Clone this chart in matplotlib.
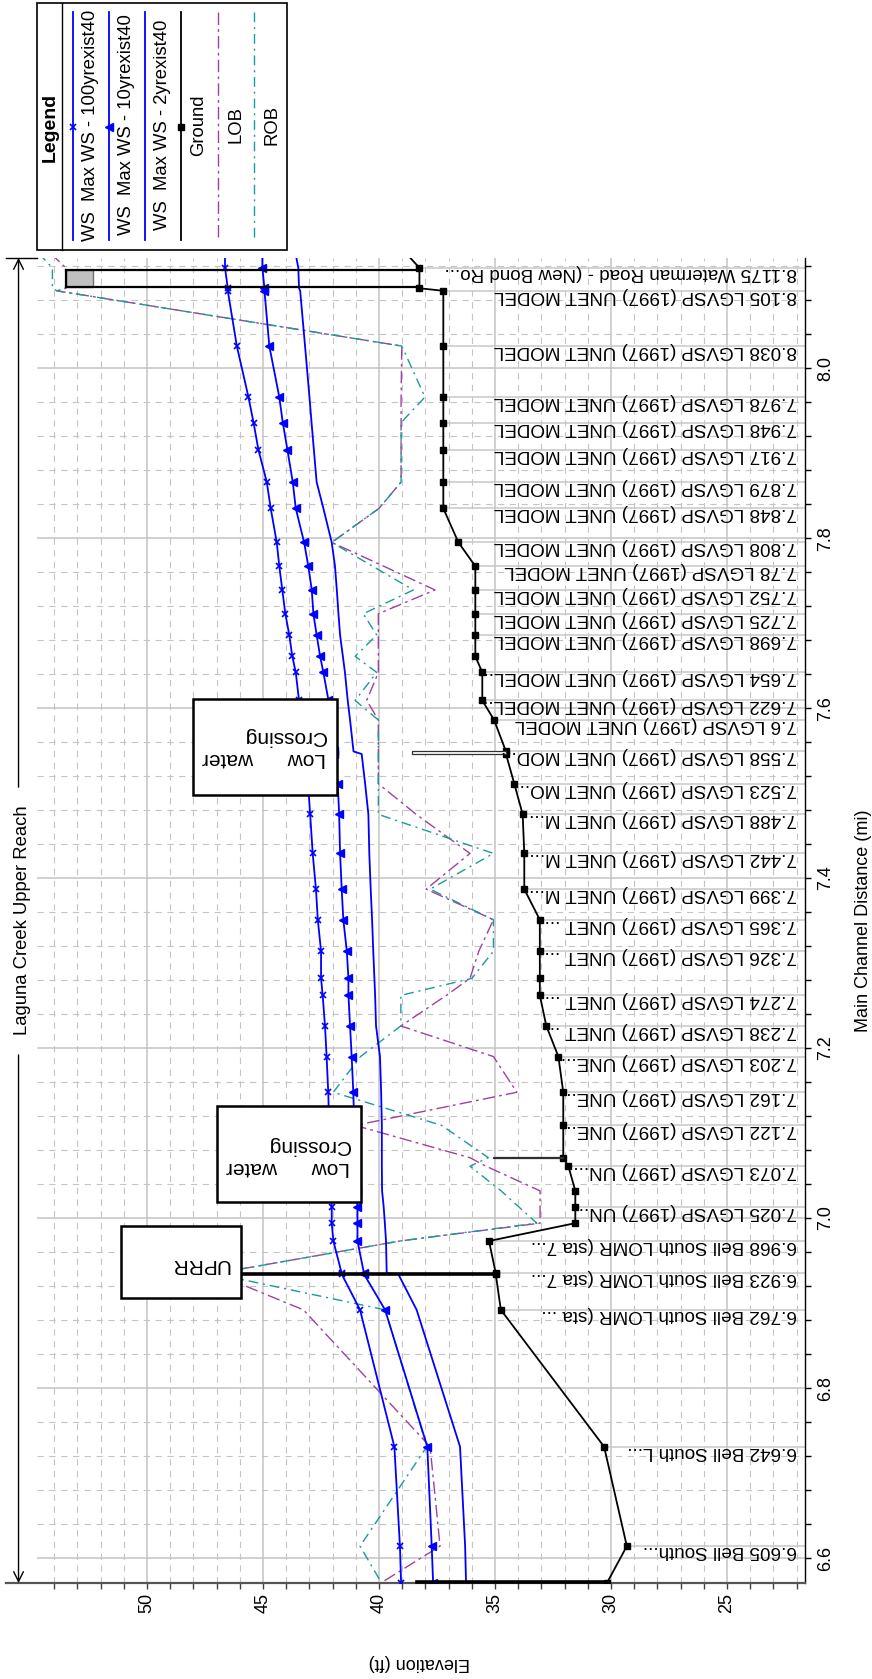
import numpy as np
import matplotlib
matplotlib.use("Agg")
import matplotlib.pyplot as plt
from matplotlib.patches import Rectangle
from matplotlib.lines import Line2D
from matplotlib.ticker import FixedLocator, FuncFormatter

plt.rcParams['font.family'] = ['Liberation Sans', 'DejaVu Sans']
plt.rcParams['lines.scale_dashes'] = False

# cross sections, upstream -> downstream
labels = [
    "",
    "8.1175 Waterman Road - (New Bond Ro...",
    "",
    "8.105 LGVSP (1997) UNET MODEL",
    "8.038 LGVSP (1997) UNET MODEL",
    "7.978 LGVSP (1997) UNET MODEL",
    "7.948 LGVSP (1997) UNET MODEL",
    "7.917 LGVSP (1997) UNET MODEL",
    "7.879 LGVSP (1997) UNET MODEL",
    "7.848 LGVSP (1997) UNET MODEL",
    "7.808 LGVSP (1997) UNET MODEL",
    "7.78 LGVSP (1997) UNET MODEL",
    "7.752 LGVSP (1997) UNET MODEL",
    "7.725 LGVSP (1997) UNET MODEL",
    "7.698 LGVSP (1997) UNET MODEL",
    "",
    "7.654 LGVSP (1997) UNET MODEL...",
    "7.622 LGVSP (1997) UNET MODEL...",
    "7.6 LGVSP (1997) UNET MODEL",
    "7.558 LGVSP (1997) UNET MOD...",
    "",
    "7.523 LGVSP (1997) UNET MO...",
    "7.488 LGVSP (1997) UNET M...",
    "7.442 LGVSP (1997) UNET M...",
    "7.399 LGVSP (1997) UNET M...",
    "7.365 LGVSP (1997) UNET ...",
    "7.326 LGVSP (1997) UNET ...",
    "",
    "7.274 LGVSP (1997) UNET ...",
    "7.238 LGVSP (1997) UNET ...",
    "7.203 LGVSP (1997) UNE...",
    "7.162 LGVSP (1997) UNE...",
    "7.122 LGVSP (1997) UNE...",
    "",
    "7.073 LGVSP (1997) UN...",
    "",
    "7.025 LGVSP (1997) UN...",
    "",
    "6.968 Bell South LOMR (sta 7...",
    "6.923 Bell South LOMR (sta 7...",
    "",
    "6.762 Bell South LOMR (sta ...",
    "6.642 Bell South L...",
    "6.605 Bell South...",
    "",
]
dist = [8.135, 8.118, 8.094, 8.091, 8.026, 7.966, 7.936, 7.904, 7.866, 7.835,
        7.795, 7.767, 7.739, 7.711, 7.686, 7.661, 7.642, 7.609, 7.586, 7.549,
        7.546, 7.511, 7.475, 7.429, 7.387, 7.351, 7.314, 7.282, 7.262, 7.226,
        7.190, 7.148, 7.109, 7.071, 7.061, 7.032, 7.013, 6.994, 6.973, 6.935,
        6.934, 6.892, 6.731, 6.614, 6.571]
ground = [38.83, 38.26, 38.26, 37.23, 37.23, 37.23, 37.23, 37.23, 37.23, 37.23,
          36.58, 35.85, 35.85, 35.85, 35.85, 35.85, 35.55, 35.55, 35.04, 34.53,
          34.53, 34.17, 33.81, 33.74, 33.74, 33.07, 33.07, 33.07, 33.07, 32.79,
          32.27, 32.06, 32.06, 32.06, 31.84, 31.54, 31.54, 31.54, 35.26, 34.97,
          34.97, 34.75, 30.30, 29.32, 30.17]
ws100 = [46.64, 46.64, 46.52, 46.52, 46.13, 45.63, 45.41, 45.20, 44.84, 44.67,
         44.41, 44.30, 44.17, 44.04, 43.87, 43.74, 43.59, 43.45, 43.34, 43.19,
         43.18, 43.06, 42.97, 42.86, 42.72, 42.64, 42.50, 42.50, 42.43, 42.33,
         42.26, 42.19, 42.15, 42.10, 42.10, 42.06, 42.04, 42.04, 41.97, 41.61,
         41.61, 40.82, 39.34, 39.10, 39.05]
ws10 = [45.03, 45.03, 44.94, 44.94, 44.73, 44.30, 44.15, 43.95, 43.72, 43.59,
        43.23, 43.05, 42.90, 42.83, 42.69, 42.54, 42.40, 42.18, 42.07, 41.94,
        41.93, 41.78, 41.72, 41.68, 41.61, 41.54, 41.39, 41.32, 41.32, 41.25,
        41.18, 41.11, 41.07, 41.00, 41.00, 40.95, 40.93, 40.93, 40.93, 40.65,
        40.65, 39.74, 37.92, 37.73, 37.67]
ws2 = [43.60, 43.48, 43.45, 43.40, 43.19, 43.00, 42.91, 42.81, 42.69, 42.40,
       42.04, 41.90, 41.82, 41.75, 41.68, 41.56, 41.47, 41.35, 41.25, 41.10,
       40.75, 40.60, 40.46, 40.42, 40.36, 40.30, 40.25, 40.20, 40.17, 40.13,
       39.96, 39.91, 39.88, 39.88, 39.88, 39.87, 39.80, 39.75, 39.70, 39.67,
       39.17, 38.38, 36.51, 36.29, 36.25]
lob = [54.16, 53.50, 53.50, 53.89, 39.02, 39.05, 39.05, 39.05, 39.05, 40.00,
       42.04, 39.80, 37.59, 40.03, 40.03, 40.03, 40.03, 40.53, 40.03, 40.03,
       40.03, 40.03, 38.40, 36.08, 37.97, 35.07, 35.70, 36.08, 37.10, 39.06,
       35.07, 34.06, 41.03, 36.08, 35.39, 33.06, 33.06, 33.06, 39.10, 47.00,
       47.00, 43.26, 37.80, 37.37, 39.90]
rob = [54.67, 54.08, 54.08, 53.89, 39.02, 38.02, 39.05, 39.05, 39.05, 40.00,
       42.04, 40.28, 38.52, 40.68, 40.10, 41.03, 40.10, 41.03, 40.03, 40.03,
       40.03, 40.03, 40.03, 35.07, 37.80, 35.07, 35.07, 36.00, 39.06, 39.06,
       40.80, 41.97, 37.30, 35.29, 36.08, 34.74, 33.97, 33.20, 39.10, 47.00,
       47.00, 39.74, 37.94, 40.82, 39.90]

# structures
bridge_faces = [8.116, 8.095]
bridge_ground = 38.26
bridge_low_chord = 52.34
bridge_top = 53.49
weirs = [(7.5465, 7.549, 34.53, 38.56), (7.0703, 7.0715, 32.06, 35.07)]
uprr_d, uprr_bottom, uprr_top = 6.9345, 34.97, 47.5
outlet_d, outlet_bottom, outlet_top = 6.5712, 30.17, 38.36

# notes (box extents in elevation / distance)
notes = [
    ("Low      water\nCrossing", (41.83, 48.03, 7.4978, 7.6106), (44.96, 7.554)),
    ("Low      water\nCrossing", (40.79, 47.00, 7.0183, 7.1315), (43.91, 7.073)),
    ("UPRR", (45.96, 51.13, 6.9055, 6.9905), (47.74, 6.945)),
]

W, H = 872, 1679
E_LEFT, E_RIGHT = 56.08, 21.64
D_BOT, D_TOP = 6.5706, 8.1296
E_GRID = 54.74


def fx(px):
    return px / W


def fy(py):
    return 1 - py / H


fig = plt.figure(figsize=(W / 100, H / 100), dpi=100)
ax = fig.add_axes([fx(6), fy(1583), 799 / W, 1325 / H])
ax.set_xlim(E_LEFT, E_RIGHT)
ax.set_ylim(D_BOT, D_TOP)

grid_col = '#c4c4c4'
for e in range(22, 55):
    if e % 5 == 0:
        ax.axvline(e, color=grid_col, lw=1.1, zorder=0)
    else:
        ax.axvline(e, color=grid_col, lw=0.8, ls=(0, (4.5, 4)), zorder=0)
d_ticks = np.round(np.arange(6.6, 8.121, 0.04), 2)
d_major = np.round(np.arange(6.6, 8.01, 0.2), 1)
for d in d_ticks:
    if np.any(np.isclose(d, d_major)):
        ax.hlines(d, E_GRID, E_RIGHT, colors=grid_col, lw=1.1, zorder=0)
    else:
        ax.hlines(d, E_GRID, E_RIGHT, colors=grid_col, lw=0.8,
                  linestyles=(0, (4.5, 4)), zorder=0)

# station leader lines and labels
for lab, d, g in zip(labels, dist, ground):
    if lab:
        ax.hlines(d, g, E_RIGHT, colors='#c8c8c8', lw=1.1, zorder=1)
        ax.text(0.99, d, lab, transform=ax.get_yaxis_transform(), rotation=180,
                rotation_mode='anchor', ha='left', va='baseline', fontsize=13.6,
                zorder=6)

lob_style = dict(color='#a040a0', lw=1.0, ls=(0, (9, 3, 2, 3)))
rob_style = dict(color='#1a9a9a', lw=1.0, ls=(0, (7, 3.5, 1.5, 3.5)))
ax.plot(lob, dist, zorder=3, **lob_style)
ax.plot(rob, dist, zorder=3, **rob_style)
ax.plot(ws2, dist, color='blue', lw=1.3, zorder=4)
ax.plot(ws10, dist, color='blue', lw=1.3, marker='<', ms=5.5, zorder=4)
ax.plot(ws100, dist, color='blue', lw=1.3, marker='x', ms=5, mew=1.2, zorder=4)
ax.plot(ground, dist, color='black', lw=1.3, marker='s', ms=5, zorder=5)

# bridge at Waterman Road
ax.add_patch(Rectangle((bridge_low_chord, bridge_faces[1]), bridge_top - bridge_low_chord,
                       bridge_faces[0] - bridge_faces[1], fc='#c0c0c0', ec='#707070',
                       lw=1, zorder=5))
for d in bridge_faces:
    ax.plot([bridge_top, bridge_ground], [d, d], color='black', lw=1.6, zorder=5)
ax.plot([bridge_top, bridge_top], bridge_faces, color='black', lw=1.6, zorder=5)

for d0, d1, e0, e1 in weirs:
    ax.add_patch(Rectangle((e0, d0), e1 - e0, d1 - d0, fc='white', ec='#303030',
                           lw=0.9, zorder=5))
ax.plot([uprr_bottom, uprr_top], [uprr_d, uprr_d], color='black', lw=2.6, zorder=5)
ax.plot([outlet_bottom, outlet_top], [outlet_d, outlet_d], color='black', lw=2.6,
        zorder=6, clip_on=False)

for txt, (e0, e1, d0, d1), (tx, ty) in notes:
    ax.add_patch(Rectangle((e0, d0), e1 - e0, d1 - d0, fc='white', ec='black',
                           lw=1.8, zorder=7))
    ax.text(tx, ty, txt, rotation=180, ha='center', va='center',
            multialignment='left', fontsize=15, zorder=8)

# reach marker
e_reach = 55.54
arrow = dict(arrowstyle='->,head_length=0.7,head_width=0.35', color='black', lw=1,
             shrinkA=0, shrinkB=0)
ax.annotate('', xy=(e_reach, D_TOP), xytext=(e_reach, 7.507), arrowprops=arrow,
            annotation_clip=False)
ax.annotate('', xy=(e_reach, D_BOT), xytext=(e_reach, 7.192), arrowprops=arrow,
            annotation_clip=False)
ax.plot([E_LEFT, E_GRID], [D_TOP, D_TOP], color='black', lw=1, clip_on=False)
ax.text(55.36, 7.35, 'Laguna Creek Upper Reach', rotation=90, ha='center',
        va='center', fontsize=13.3)

# axes, ticks
for s in ('top', 'left'):
    ax.spines[s].set_visible(False)
ax.spines['right'].set_color('black')
ax.spines['right'].set_linewidth(1)
ax.spines['bottom'].set_color('#555555')
ax.spines['bottom'].set_linewidth(1.6)

ax.xaxis.set_major_locator(FixedLocator([25, 30, 35, 40, 45, 50]))
ax.xaxis.set_minor_locator(FixedLocator(list(range(22, 55))))
ax.yaxis.tick_right()
ax.yaxis.set_major_locator(FixedLocator(list(d_major)))
ax.yaxis.set_minor_locator(FixedLocator(list(d_ticks)))
ax.yaxis.set_major_formatter(FuncFormatter(lambda v, p: f"{v:.1f}"))
ax.xaxis.set_major_formatter(FuncFormatter(lambda v, p: f"{v:.0f}"))
ax.tick_params(axis='x', which='both', direction='out', length=4, width=1,
               color='#404040', labelsize=13, labelrotation=90, pad=3)
ax.tick_params(axis='y', which='both', direction='out', length=4, width=1,
               labelsize=13, labelrotation=90, pad=5, left=False, right=True,
               labelleft=False, labelright=True)
for t in ax.get_yticklabels():
    t.set_va('center')

fig.text(fx(419), fy(1663), 'Elevation (ft)', rotation=180, ha='center',
         va='center', fontsize=13)
fig.text(fx(863), fy(921), 'Main Channel Distance (mi)', rotation=90,
         ha='center', va='center', fontsize=13)

# legend
fig.add_artist(Rectangle((fx(36.7), fy(250)), (287.3 - 36.7) / W, (250 - 3.3) / H,
                         transform=fig.transFigure, fill=False, ec='black', lw=1.2))
fig.add_artist(Line2D([fx(62.3)] * 2, [fy(3.3), fy(250)], transform=fig.transFigure,
                      color='black', lw=1))
fig.text(fx(50), fy(127), 'Legend', rotation=90, ha='center', va='center',
         fontsize=14, weight='bold')
entries = [
    ("WS  Max WS - 100yrexist40", dict(color='blue', lw=1.3), dict(marker='x', ms=5, mew=1.2, color='blue')),
    ("WS  Max WS - 10yrexist40", dict(color='blue', lw=1.3), dict(marker='<', ms=5.5, color='blue')),
    ("WS  Max WS - 2yrexist40", dict(color='blue', lw=1.3), None),
    ("Ground", dict(color='black', lw=1.3), dict(marker='s', ms=5, color='black')),
    ("LOB", lob_style, None),
    ("ROB", rob_style, None),
]
x_lines = [72.7, 109.3, 145, 181, 218.3, 254]
for (txt, lstyle, mstyle), xl in zip(entries, x_lines):
    fig.add_artist(Line2D([fx(xl)] * 2, [fy(11.7), fy(240)], transform=fig.transFigure,
                          **lstyle))
    if mstyle:
        fig.add_artist(Line2D([fx(xl)], [fy(127)], transform=fig.transFigure,
                              ls='none', **mstyle))
    fig.text(fx(xl + 17.5), fy(125), txt, rotation=90, ha='center', va='center',
             fontsize=13.3)

fig.savefig('out.png', dpi=100)
